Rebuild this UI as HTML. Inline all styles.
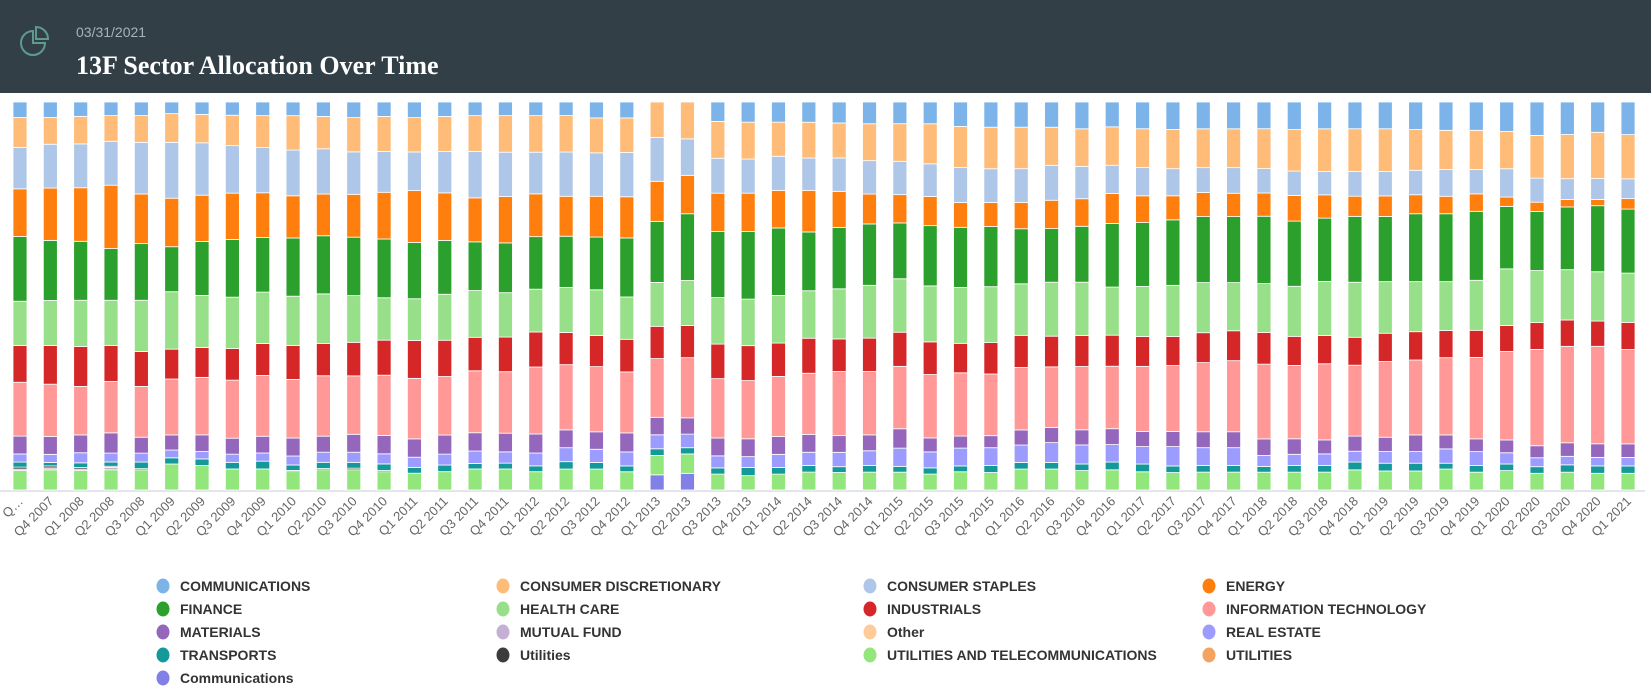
<!DOCTYPE html>
<html><head><meta charset="utf-8"><style>
body{margin:0;width:1651px;height:696px;background:#fff;overflow:hidden;font-family:"Liberation Sans",sans-serif}
#hdr{position:absolute;left:0;top:0;width:1651px;height:93px;background:#323f47}
#date{position:absolute;left:76px;top:24px;font-size:14px;color:#a9b2b8}
#title{position:absolute;left:76px;top:51px;font-family:"Liberation Serif",serif;font-weight:bold;font-size:26px;color:#fff}
svg{position:absolute;left:0;top:0}
</style></head><body>
<div id="hdr">
<svg width="60" height="93"><path d="M33 31 A12 12 0 1 0 45 43 L33 43 Z" fill="none" stroke="#5d9b90" stroke-width="2"/><path d="M36 27 A12 12 0 0 1 48 39 L36 39 Z" fill="none" stroke="#5d9b90" stroke-width="2"/></svg>
<div id="date">03/31/2021</div>
<div id="title">13F Sector Allocation Over Time</div>
</div>
<svg id="chart" width="1651" height="696" style="top:0"></svg>
<script>
const categories=["Q…","Q4 2007","Q1 2008","Q2 2008","Q3 2008","Q1 2009","Q2 2009","Q3 2009","Q4 2009","Q1 2010","Q2 2010","Q3 2010","Q4 2010","Q1 2011","Q2 2011","Q3 2011","Q4 2011","Q1 2012","Q2 2012","Q3 2012","Q4 2012","Q1 2013","Q2 2013","Q3 2013","Q4 2013","Q1 2014","Q2 2014","Q3 2014","Q4 2014","Q1 2015","Q2 2015","Q3 2015","Q4 2015","Q1 2016","Q2 2016","Q3 2016","Q4 2016","Q1 2017","Q2 2017","Q3 2017","Q4 2017","Q1 2018","Q2 2018","Q3 2018","Q4 2018","Q1 2019","Q2 2019","Q3 2019","Q4 2019","Q1 2020","Q2 2020","Q3 2020","Q4 2020","Q1 2021"];
const seriesNames=["Communications","UTILITIES AND TELECOMMUNICATIONS","MUTUAL FUND","Utilities","TRANSPORTS","REAL ESTATE","MATERIALS","INFORMATION TECHNOLOGY","INDUSTRIALS","HEALTH CARE","FINANCE","ENERGY","CONSUMER STAPLES","CONSUMER DISCRETIONARY","Other","UTILITIES","COMMUNICATIONS"];
const commLower=[0,0,0,0,0,0,0,0,0,0,0,0,0,0,0,0,0,0,0,0,0,3.9,4.3,0,0,0,0,0,0,0,0,0,0,0,0,0,0,0,0,0,0,0,0,0,0,0,0,0,0,0,0,0,0,0];
const utilTelecom=[5.0,5.2,5.0,5.2,5.2,6.7,6.3,5.4,5.4,4.7,5.2,5.2,4.7,4.3,4.7,5.4,5.4,4.7,5.4,5.4,4.7,5.0,5.0,4.1,3.7,4.1,4.6,4.5,4.6,4.6,4.1,4.7,4.5,5.4,5.4,5.0,5.2,4.7,4.5,4.6,4.6,4.6,4.6,4.6,5.2,4.9,4.9,5.4,4.6,5.0,4.3,4.6,4.3,4.3];
const mutualFund=[0.4,0.5,0.4,0.6,0,0,0,0,0,0,0,0,0,0,0,0,0,0,0,0,0,0,0,0,0,0,0,0,0,0,0,0,0,0,0,0,0,0,0,0,0,0,0,0,0,0,0,0,0,0,0,0,0,0];
const utilities=[0.5,0.5,0.4,0.3,0.3,0,0,0,0,0.3,0.3,0.4,0.3,0,0,0,0,0,0,0,0,0,0,0,0,0,0,0,0,0,0,0,0,0,0,0,0,0,0,0,0,0,0,0,0,0,0,0,0,0,0,0,0,0];
const transports=[1.3,0.9,1.2,1.1,1.7,1.6,1.7,1.7,2.0,1.4,1.6,1.5,1.7,1.5,1.7,1.4,1.5,1.5,1.9,1.7,1.5,1.7,1.6,1.6,2.1,1.7,1.7,1.5,1.7,1.5,1.6,1.5,1.8,1.7,1.7,1.7,2.0,2.0,1.7,1.7,1.7,1.5,1.7,1.7,2.0,2.0,2.0,1.5,1.7,1.7,1.7,1.9,1.9,1.9];
const realEstate=[2.1,2.1,2.6,2.3,2.3,2.0,1.9,2.1,2.1,2.3,2.6,2.6,2.6,2.6,2.8,3.2,2.9,3.3,3.6,3.4,3.6,3.6,3.5,3.1,2.8,3.4,3.4,3.7,3.8,4.7,4.1,4.6,4.6,4.5,5.1,4.9,4.5,4.5,5.0,4.6,4.6,2.8,2.9,3.0,2.8,3.0,3.0,3.7,3.6,2.9,2.3,2.2,2.2,2.2];
const materials=[4.6,4.6,4.6,5.2,4.1,3.9,4.3,4.1,4.3,4.6,4.1,4.6,4.7,4.7,4.9,4.7,4.8,4.9,4.6,4.5,4.9,4.5,4.2,4.6,4.6,4.6,4.6,4.3,4.1,5.0,3.6,3.1,3.1,3.9,3.9,3.9,4.1,3.9,3.9,4.1,4.1,4.3,4.0,3.6,3.9,3.7,4.3,3.6,3.3,3.3,3.1,3.5,3.5,3.5];
const infoTech=[13.9,13.5,12.5,13.2,13.1,14.4,14.8,14.9,15.6,15.0,15.5,15.0,15.5,15.5,15.0,15.9,15.8,17.2,16.8,16.8,15.7,15.1,15.5,15.3,15.0,15.5,15.7,16.5,16.3,16.1,16.3,16.3,15.9,16.1,15.6,16.3,16.1,16.8,17.0,17.8,18.3,19.3,18.9,19.6,18.3,19.5,19.3,19.9,21.0,22.8,24.8,24.9,25.1,24.3];
const industrials=[9.5,10.0,10.3,9.3,9.0,7.7,7.7,8.1,8.2,8.7,8.3,8.6,9.0,9.7,9.3,8.6,8.9,9.0,8.3,8.0,8.4,8.3,8.3,8.9,9.0,8.6,9.0,8.4,8.6,8.8,8.4,7.6,8.1,8.3,7.9,8.0,8.0,7.7,7.5,7.7,7.7,8.2,7.5,7.3,7.2,7.3,7.3,7.0,7.0,6.7,6.9,6.8,6.5,7.0];
const healthCare=[11.4,11.6,11.9,11.6,13.2,14.8,13.4,13.2,13.2,12.6,12.7,12.0,10.9,10.7,11.8,12.0,11.4,11.0,11.6,11.8,10.9,11.3,11.6,12.0,12.0,12.3,12.2,12.9,13.6,13.8,14.4,14.4,14.4,13.3,13.9,13.7,12.4,12.9,13.2,12.9,12.4,12.6,12.9,13.9,14.2,13.3,12.9,12.6,12.9,14.6,13.4,13.0,12.7,12.7];
const finance=[16.7,15.5,15.2,13.3,14.6,11.6,13.9,14.8,14.0,14.9,14.9,15.0,15.1,14.4,13.8,12.5,12.8,13.5,13.2,13.6,15.2,15.7,17.2,17.0,17.4,17.4,15.1,15.8,15.8,14.4,15.5,15.5,15.5,14.2,13.8,14.4,16.4,16.5,16.9,17.0,17.0,17.4,16.8,16.3,17.0,16.8,17.5,17.5,17.8,16.1,15.2,16.2,17.0,16.5];
const energy=[12.3,13.5,13.8,16.3,12.8,12.5,11.9,11.9,11.5,10.8,10.7,11.0,12.0,13.3,12.2,11.3,11.9,11.0,10.3,10.5,10.6,10.3,9.9,9.9,9.9,9.7,10.7,9.3,7.7,7.3,7.5,6.4,6.2,6.8,7.3,7.1,7.7,6.9,6.2,6.2,6.0,6.0,6.6,6.0,5.2,5.3,4.9,4.5,4.5,2.4,2.4,1.9,1.6,2.7];
const consStaples=[10.7,11.3,11.3,11.3,13.3,14.4,13.5,12.2,11.6,11.7,11.6,10.9,10.5,9.9,10.6,11.9,11.4,10.7,11.4,11.2,11.4,11.3,9.4,9.0,8.8,8.8,8.3,8.6,8.6,8.6,8.4,9.0,8.7,8.7,9.0,8.3,7.3,7.3,7.0,6.4,6.6,6.3,6.3,6.0,6.4,6.3,6.3,6.9,6.3,7.3,6.2,5.4,5.4,5.1];
const consDisc=[7.7,6.9,7.1,6.6,6.9,7.4,7.3,7.8,8.2,8.8,8.3,8.8,9.0,8.8,9.0,9.2,9.4,9.4,9.4,9.0,8.9,9.1,9.5,9.5,9.5,8.8,9.2,9.0,9.5,9.7,10.3,10.6,10.7,10.7,9.8,9.7,9.9,10.0,10.1,10.0,10.0,10.3,10.7,11.0,11.0,11.0,10.5,10.1,10.1,9.6,11.0,11.4,11.9,11.4];
const other=new Array(54).fill(0);
const utilitiesUpper=new Array(54).fill(0);
const commUpper=[4.0,4.0,3.7,3.5,3.5,3.0,3.2,3.4,3.5,3.5,3.7,4.0,3.7,4.0,3.7,3.5,3.5,3.5,3.5,4.1,4.1,0,0,5.0,5.2,5.2,5.2,5.4,5.6,5.6,5.6,6.3,6.5,6.5,6.5,6.9,6.4,6.9,7.1,6.9,6.9,6.9,7.1,6.9,6.9,6.9,7.1,7.3,7.3,7.6,8.6,8.4,7.8,8.4];
const seriesValues=[commLower,utilTelecom,mutualFund,utilities,transports,realEstate,materials,infoTech,industrials,healthCare,finance,energy,consStaples,consDisc,other,utilitiesUpper,commUpper];
const colors=["#8080e6","#92e67c","#c5b0d5","#3c3c3c","#14999a","#9c9cff","#9467bd","#ff9896","#d62728","#98df8a","#2ca02c","#ff7f0e","#aec7e8","#ffbb78","#ffcc99","#f4a460","#7cb4ea"];
const legendOrder=[16,13,12,11,10,9,8,7,6,2,14,5,4,3,1,15,0];

const NS="http://www.w3.org/2000/svg";
const svg=document.getElementById('chart');
const plotTop=102,plotBottom=490,x0=13,step=30.34,bw=14;
function xPos(i){return x0+i*step;}
function yScale(frac){return plotBottom-frac*(plotBottom-plotTop);}
function mk(tag,attrs){const e=document.createElementNS(NS,tag);for(const k in attrs)e.setAttribute(k,attrs[k]);svg.appendChild(e);return e;}

const axis=mk('line',{x1:0,x2:1645,y1:plotBottom+1,y2:plotBottom+1,stroke:'#d8dde3','stroke-width':1.5});



categories.forEach((c,i)=>{
  let total=0;seriesValues.forEach(s=>total+=s[i]);
  let cum=0;
  seriesValues.forEach((s,k)=>{
    const v=s[i];if(v<=0)return;
    const yb=yScale(cum/total),yt=yScale((cum+v)/total);cum+=v;
    const r=mk('rect',{x:xPos(i),y:yt,width:bw,height:Math.max(yb-yt,0.5),fill:colors[k],stroke:'#fff','stroke-width':0.8});
    
    
  });
  const cx=xPos(i)+bw/2+4,cy=plotBottom+12;
  const t=mk('text',{x:cx,y:cy,'text-anchor':'end',transform:`rotate(-45 ${cx} ${cy})`,'font-size':13,fill:'#666','font-family':'Liberation Sans, sans-serif'});
  t.textContent=c;
  
  
});

const colX=[163,503,870,1209];
legendOrder.forEach((k,j)=>{
  const col=j%4,row=Math.floor(j/4);
  const cx=colX[col],cy=586+row*23;
  const g=document.createElementNS(NS,'g');svg.appendChild(g);
  
  
  const c=document.createElementNS(NS,'ellipse');
  c.setAttribute('cx',cx);c.setAttribute('cy',cy);c.setAttribute('rx',6.5);c.setAttribute('ry',7.5);c.setAttribute('fill',colors[k]);g.appendChild(c);
  const t=document.createElementNS(NS,'text');
  t.setAttribute('x',cx+17);t.setAttribute('y',cy+5);t.setAttribute('font-size',14);t.setAttribute('font-weight','bold');t.setAttribute('fill','#333');t.setAttribute('font-family','Liberation Sans, sans-serif');
  t.textContent=seriesNames[k];g.appendChild(t);
});
</script>
</body></html>
